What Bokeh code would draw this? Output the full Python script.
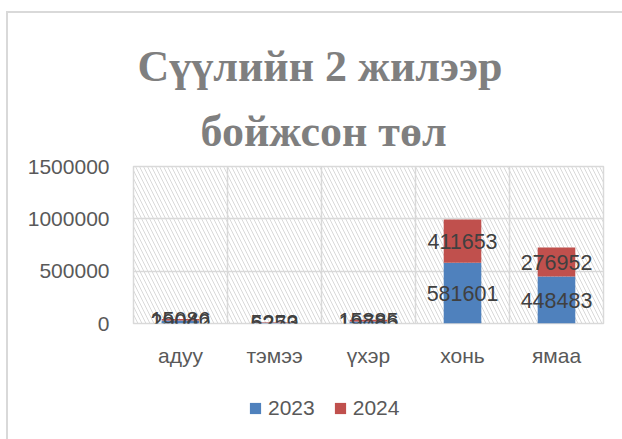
from bokeh.plotting import figure
from bokeh.layouts import column
from bokeh.models import (FixedTicker, BasicTickFormatter, Legend, LegendItem,
                          Title, ColumnDataSource)
from bokeh.core.properties import value
from bokeh.embed import file_html
from bokeh.resources import INLINE

categories = ["адуу", "тэмээ", "үхэр", "хонь", "ямаа"]
series_names = ["2023", "2024"]
values_2023 = [29042, 6279, 19786, 581601, 448483]
values_2024 = [15086, 5253, 15885, 411653, 276952]
y_ticks = [0, 500000, 1000000, 1500000]
title_lines = ["Сүүлийн 2 жилээр", "бойжсон төл"]

BLUE = "#4f81bd"
RED = "#c0504d"
COLORS = [BLUE, RED]
GRID = "#d9d9d9"
SANS = "Liberation Sans"

src = ColumnDataSource(dict(
    cats=categories,
    y2023=values_2023,
    y2024=values_2024,
    c1=[a / 2 for a in values_2023],
    c2=[a + b / 2 for a, b in zip(values_2023, values_2024)],
    t1=[str(a) for a in values_2023],
    t2=[str(b) for b in values_2024],
))

p = figure(x_range=categories, y_range=(y_ticks[0], y_ticks[-1]),
           width=614, height=367, output_backend="svg", toolbar_location=None,
           min_border_left=125, min_border_right=19, min_border_top=153,
           min_border_bottom=57)
p.title.visible = False
p.outline_line_color = GRID
p.outline_line_width = 1.5
p.background_fill_color = "white"
p.border_fill_color = "white"

# hatched plot area
p.quad(left=[0], right=[len(categories)], bottom=[y_ticks[0]], top=[y_ticks[-1]],
       fill_alpha=0, line_alpha=0, hatch_pattern="\\", hatch_color=GRID,
       hatch_scale=8, hatch_weight=1, hatch_alpha=1)

# vertical category boundaries
bounds = list(range(1, len(categories)))
p.segment(x0=bounds, x1=bounds, y0=[y_ticks[0]] * len(bounds),
          y1=[y_ticks[-1]] * len(bounds), line_color=GRID, line_width=1.5)

p.xgrid.visible = False
p.ygrid.ticker = FixedTicker(ticks=y_ticks)
p.ygrid.grid_line_color = GRID
p.ygrid.grid_line_width = 1.5

rs = p.vbar_stack(["y2023", "y2024"], x="cats", width=0.4, color=COLORS,
                  line_alpha=0, source=src)

for ycol, tcol in (("c1", "t1"), ("c2", "t2")):
    p.text(x="cats", y=ycol, text=tcol, source=src, text_align="center",
           text_baseline="middle", text_font=value(SANS),
           text_font_size="21.5px", text_color="#404040")

# axes
p.yaxis.ticker = FixedTicker(ticks=y_ticks)
p.yaxis.formatter = BasicTickFormatter(use_scientific=False)
for ax in (p.xaxis[0], p.yaxis[0]):
    ax.axis_line_color = None
    ax.major_tick_line_color = None
    ax.minor_tick_line_color = None
    ax.major_tick_out = 0
    ax.major_tick_in = 0
    ax.major_label_text_font = SANS
    ax.major_label_text_font_size = "21px"
    ax.major_label_text_color = "#595959"
p.yaxis.major_label_standoff = 24
p.xaxis.major_label_standoff = 20

# title lines (lower line added first so it sits closest to the plot)
title_offsets = [4, 67]
title_standoffs = [6, 22]
for i in reversed(range(len(title_lines))):
    p.add_layout(Title(text=title_lines[i], align="left", offset=title_offsets[i],
                       standoff=title_standoffs[i],
                       text_font="Liberation Serif",
                       text_font_style="bold", text_font_size="44px",
                       text_color="#7f7f7f"), "above")

# legend strip below the chart (zero-height proxy bars carry the swatches)
lg = figure(width=614, height=59, output_backend="svg", toolbar_location=None,
            min_border=0, x_range=(0, 1), y_range=(0, 1))
lg.title.visible = False
lg.axis.visible = False
lg.grid.visible = False
lg.outline_line_color = None
lg.border_fill_color = "white"
lg_src = ColumnDataSource(dict(x=[0.5], top=[0], bottom=[0]))
lg_rs = [lg.vbar(x="x", top="top", bottom="bottom", width=0.1, fill_color=c,
                 line_alpha=0, source=lg_src)
         for c in COLORS]
legend = Legend(items=[LegendItem(label=n, renderers=[r])
                       for n, r in zip(series_names, lg_rs)],
                orientation="horizontal", location=(115, 19),
                border_line_alpha=0, background_fill_alpha=0,
                label_text_font=SANS, label_text_font_size="21px",
                label_text_color="#595959", glyph_width=14, glyph_height=14,
                label_height=24, label_standoff=6, spacing=18, padding=0,
                margin=0)
lg.add_layout(legend, "center")

layout = column(p, lg, spacing=0, margin=(11, 0, 0, 6),
                styles={"border-top": "2px solid #d9d9d9",
                        "border-left": "2px solid #d9d9d9"})

open("out.html", "w").write(file_html(layout, INLINE))
